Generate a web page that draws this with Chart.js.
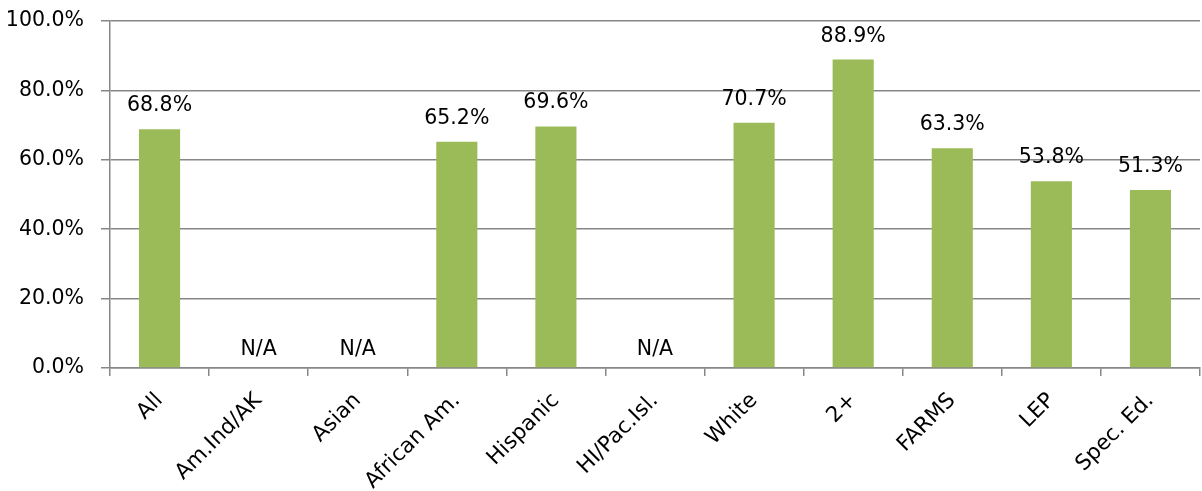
<!DOCTYPE html>
<html><head><meta charset="utf-8">
<script src="https://cdn.jsdelivr.net/npm/chart.js@4.4.0/dist/chart.umd.min.js"></script>
<style>html,body{margin:0;padding:0;background:#fff}#wrap{width:1202px;height:491px}</style>
</head><body><div id="wrap"><canvas id="c" width="1202" height="491"></canvas></div>
<script>
const categories = ["All","Am.Ind/AK","Asian","African Am.","Hispanic","HI/Pac.Isl.","White","2+","FARMS","LEP","Spec. Ed."];
const values = [68.8, null, null, 65.2, 69.6, null, 70.7, 88.9, 63.3, 53.8, 51.3];
const valueLabels = ["68.8%","N/A","N/A","65.2%","69.6%","N/A","70.7%","88.9%","63.3%","53.8%","51.3%"];
const yTicks = [0,20,40,60,80,100];

const FONT = "'DejaVu Sans', sans-serif";
const labelPlugin = {
  id: 'vlabels',
  afterDatasetsDraw(chart){
    const ctx = chart.ctx, meta = chart.getDatasetMeta(0), ys = chart.scales.y;
    ctx.save();
    ctx.font = "20.5px " + FONT;
    ctx.fillStyle = "#000";
    ctx.textAlign = "center";
    ctx.textBaseline = "alphabetic";
    meta.data.forEach((el,i)=>{
      const x = chart.scales.x.getPixelForValue(i);
      let y;
      if (values[i] === null) y = ys.getPixelForValue(0) - 13;
      else y = el.y - 18;
      ctx.fillText(valueLabels[i], x, y);
    });
    ctx.restore();
  }
};

new Chart(document.getElementById('c'), {
  type: 'bar',
  data: { labels: categories, datasets: [{ data: values, backgroundColor: '#9BBB59', borderWidth: 0, barPercentage: 0.83, categoryPercentage: 0.5 }] },
  options: {
    responsive: false, animation: false,
    layout: { padding: { top: 21, right: 2, left: 0, bottom: 0 } },
    plugins: { legend: { display: false }, tooltip: { enabled: false } },
    scales: {
      x: {
        grid: { display: true, drawOnChartArea: false, drawTicks: true, tickLength: 8, color: '#878787', lineWidth: 1.5, offset: true },
        border: { color: '#878787', width: 1.5 },
        ticks: { color: '#000', font: { family: FONT, size: 21.5 }, maxRotation: 45, minRotation: 45, autoSkip: false, padding: 12 },
        afterFit(s){ s.height = 123; }
      },
      y: {
        min: 0, max: 100,
        afterBuildTicks(s){ s.ticks = yTicks.map(v=>({value:v})); },
        grid: { color: '#878787', lineWidth: 1.5, tickLength: 9 },
        border: { color: '#878787', width: 1.5 },
        ticks: { color: '#000', font: { family: FONT, size: 20.5 }, padding: 17, callback: v => v.toFixed(1) + '%' },
        afterFit(s){ s.width = 110; s.paddingTop = 0; s.paddingBottom = 0; }
      }
    }
  },
  plugins: [labelPlugin]
});
</script></body></html>
